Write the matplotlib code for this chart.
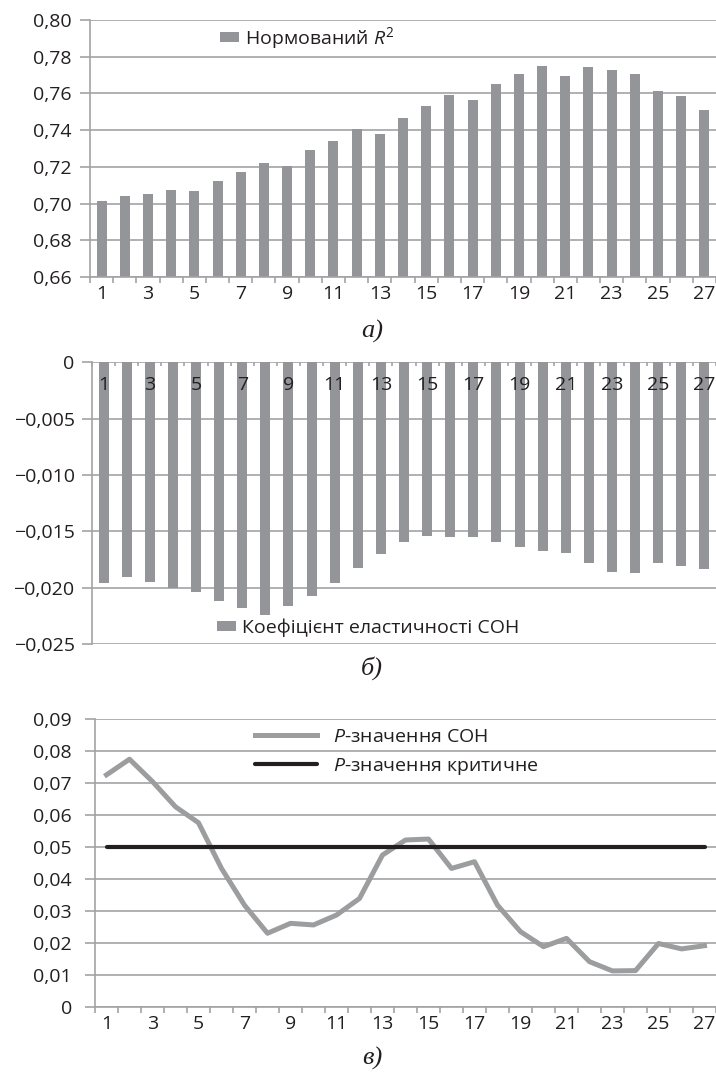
import matplotlib
matplotlib.use('Agg')
import matplotlib.pyplot as plt
import numpy as np
from matplotlib.ticker import FuncFormatter

# дані
periods = list(range(1, 28))
period_labels = [str(p) if p % 2 else '' for p in periods]

r2_norm = [0.7013, 0.7040, 0.7051, 0.7073, 0.7067, 0.7122, 0.7171, 0.7220, 0.7204,
           0.7291, 0.7340, 0.7404, 0.7378, 0.7465, 0.7531, 0.7591, 0.7564, 0.7651,
           0.7705, 0.7749, 0.7695, 0.7744, 0.7727, 0.7705, 0.7613, 0.7585, 0.7509]

elasticity = [-0.01956, -0.01905, -0.01947, -0.02000, -0.02036, -0.02115, -0.02178,
              -0.02240, -0.02163, -0.02071, -0.01956, -0.01823, -0.01701, -0.01592,
              -0.01538, -0.01547, -0.01547, -0.01592, -0.01636, -0.01672, -0.01690,
              -0.01778, -0.01858, -0.01867, -0.01778, -0.01805, -0.01831]

p_value = [0.0726, 0.0775, 0.0705, 0.0626, 0.0576, 0.0433, 0.0318, 0.0230, 0.0261,
           0.0256, 0.0287, 0.0339, 0.0475, 0.0522, 0.0525, 0.0433, 0.0454, 0.0318,
           0.0235, 0.0188, 0.0214, 0.0141, 0.0112, 0.0113, 0.0198, 0.0181, 0.0191]
p_critical = [0.05] * 27

r2_ticks = [0.66, 0.68, 0.70, 0.72, 0.74, 0.76, 0.78, 0.80]
el_ticks = [-0.025, -0.020, -0.015, -0.010, -0.005, 0.0]
p_ticks = [0.0, 0.01, 0.02, 0.03, 0.04, 0.05, 0.06, 0.07, 0.08, 0.09]

BAR = '#939598'
GRID = '#a3a3a5'
LINE = '#9c9d9f'
BLACK = '#231f20'
TEXT = '#231f20'

plt.rcParams['font.family'] = ['Open Sans', 'DejaVu Sans']
plt.rcParams['mathtext.fontset'] = 'custom'
plt.rcParams['mathtext.rm'] = 'Open Sans'
plt.rcParams['mathtext.it'] = 'Open Sans:italic'
plt.rcParams['font.size'] = 14
plt.rcParams['text.color'] = TEXT


def ua_formatter(decimals):
    # кома як десятковий роздільник і довгий мінус
    def fmt(v, pos):
        if abs(v) < 1e-12:
            return '0'
        s = '{:.{}f}'.format(abs(v), decimals).replace('.', ',')
        return ('\u2212' if v < 0 else '') + s
    return FuncFormatter(fmt)


def setup_x(ax, top=False):
    ax.set_xlim(0.5, 27.5)
    ax.set_xticks(np.arange(0.5, 28, 1.0))
    ax.set_xticklabels([])
    ax.set_xticks(periods, minor=True)
    ax.set_xticklabels(period_labels, minor=True)
    if top:
        ax.xaxis.set_ticks_position('top')
        ax.tick_params(axis='x', which='major', direction='in', length=3, width=1.2, color=GRID)
        ax.tick_params(axis='x', which='minor', length=0, labeltop=True, labelbottom=False,
                       pad=-23, labelsize=14, labelcolor=TEXT)
    else:
        ax.tick_params(axis='x', which='major', direction='out', length=4, width=1.2, color=GRID)
        ax.tick_params(axis='x', which='minor', length=0, pad=6, labelsize=14, labelcolor=TEXT)


def setup_y(ax, ticks, decimals, pad):
    ax.set_yticks(ticks)
    ax.yaxis.set_major_formatter(ua_formatter(decimals))
    ax.tick_params(axis='y', length=7.5, width=1.2, color=GRID, pad=pad,
                   labelsize=14, labelcolor=TEXT)
    for s in ['top', 'right', 'bottom']:
        ax.spines[s].set_visible(False)
    ax.spines['left'].set_color(GRID)
    ax.spines['left'].set_linewidth(1.2)


fig = plt.figure(figsize=(7.16, 10.79), dpi=100)
W, H = 716.0, 1079.0

# а) нормований R^2
ax1 = fig.add_axes([90 / W, 1 - 277 / H, 626 / W, 257 / H])
ax1.bar(periods, r2_norm, width=0.43, color=BAR, label='Нормований $R^2$')
ax1.set_ylim(0.66, 0.80)
setup_x(ax1)
setup_y(ax1, r2_ticks, 2, 5.5)
ax1.spines['bottom'].set_visible(True)
ax1.spines['bottom'].set_color(GRID)
ax1.spines['bottom'].set_linewidth(1.2)
ax1.grid(axis='y', color=GRID, linewidth=1.2)
ax1.set_axisbelow(True)
ax1.legend(loc='center left', bbox_to_anchor=(0.2077, 0.931), frameon=False,
           borderaxespad=0, borderpad=0, handlelength=1.0, handleheight=0.45,
           handletextpad=0.3, fontsize=14)

# б) коефіцієнт еластичності
ax2 = fig.add_axes([92 / W, 1 - 644.3 / H, 624 / W, 282 / H])
ax2.bar(periods, elasticity, width=0.43, color=BAR, zorder=1,
        label='Коефіцієнт еластичності СОН')
ax2.set_ylim(-0.025, 0)
setup_x(ax2, top=True)
setup_y(ax2, el_ticks, 3, 5)
for t in el_ticks:
    ax2.axhline(t, color=GRID, linewidth=1.2, zorder=0.5)
ax2.legend(loc='center left', bbox_to_anchor=(0.2003, 0.0589), frameon=False,
           borderaxespad=0, borderpad=0, handlelength=1.0, handleheight=0.45,
           handletextpad=0.3, fontsize=14)

# в) P-значення
ax3 = fig.add_axes([95 / W, 1 - 1006.7 / H, 621 / W, 287.4 / H])
ax3.plot(periods, p_value, color=LINE, linewidth=3.6, label='$P$-значення СОН')
ax3.plot(periods, p_critical, color=BLACK, linewidth=3.0, solid_capstyle='round',
         label='$P$-значення критичне')
ax3.set_ylim(0, 0.09)
setup_x(ax3)
setup_y(ax3, p_ticks, 2, 9)
ax3.spines['bottom'].set_visible(True)
ax3.spines['bottom'].set_color(GRID)
ax3.spines['bottom'].set_linewidth(1.2)
ax3.grid(axis='y', color=GRID, linewidth=1.2)
ax3.set_axisbelow(True)
ax3.legend(loc='center left', bbox_to_anchor=(0.2577, 0.8845), frameon=False,
           borderaxespad=0, borderpad=0, handlelength=3.2, handletextpad=0.8,
           labelspacing=0.5, fontsize=14)

# підписи частин рисунка
for txt, y in [('а)', 331), ('б)', 668), ('в)', 1058)]:
    fig.text(372 / W, 1 - y / H, txt, ha='center', va='center', fontsize=19,
             family='Liberation Serif', style='italic', color=TEXT)

fig.savefig('out.png', dpi=100)
